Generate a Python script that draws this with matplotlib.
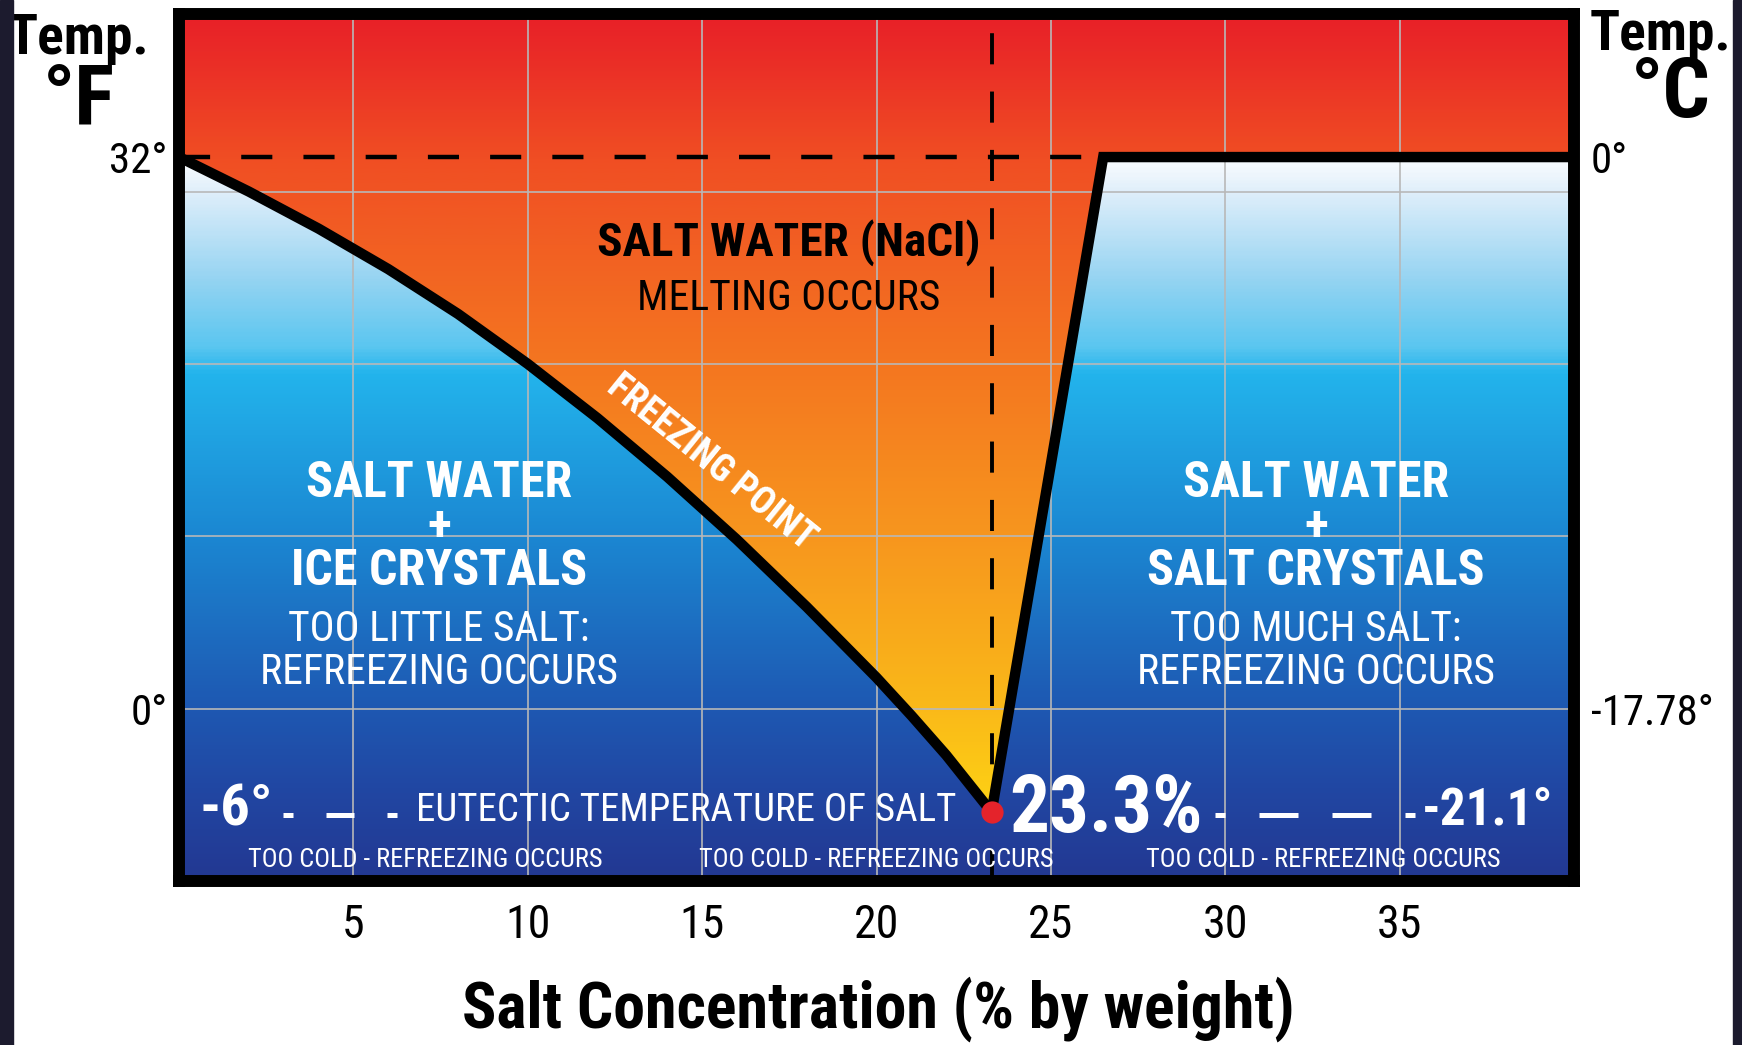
import numpy as np
import matplotlib
matplotlib.use("Agg")
import matplotlib.pyplot as plt
from matplotlib.colors import LinearSegmentedColormap
from matplotlib.patches import Polygon, Rectangle
from matplotlib import font_manager as fm

# ---------------- data ----------------
conc_freeze = [0, 2, 4, 6, 8, 10, 12, 14, 16, 18, 20, 21, 22, 23.3]      # % NaCl
temp_freeze_F = [32, 30.0, 27.85, 25.5, 22.9, 20.0, 16.85, 13.45, 9.8, 5.9, 1.8, -0.4, -2.7, -6.0]
conc_solub = [23.3, 26.5, 40]
temp_solub_F = [-6.0, 32, 32]
eutectic_conc = 23.3
eutectic_F = -6.0
water_freeze_F = 32
xtick_vals = [5, 10, 15, 20, 25, 30, 35]
xtick_labels = ["5", "10", "15", "20", "25", "30", "35"]
ytick_F = [0, 32]
ytick_F_labels = ["0°", "32°"]
ytick_C = [-17.78, 0]
ytick_C_labels = ["-17.78°", "0°"]
grid_F = [0, 10, 20, 30]

# ---------------- fonts ----------------
names = {f.name for f in fm.fontManager.ttflist}
COND = "DejaVu Sans"
for cand in ["Roboto Condensed", "Liberation Sans Narrow", "Open Sans Condensed"]:
    if cand in names:
        COND = cand
        break
plt.rcParams["font.family"] = [COND, "DejaVu Sans"]

W, H = 1742, 1045
fig = plt.figure(figsize=(W / 100, H / 100), dpi=100, facecolor="white")
x0, x1 = 179, 1574
y_top, y_bot = 14, 881
ax = fig.add_axes([x0 / W, 1 - y_bot / H, (x1 - x0) / W, (y_bot - y_top) / H])

lo, hi = -10.0, 40.3
ax.set_xlim(0, 40)
ax.set_ylim(lo, hi)

def cmap_from(stops):
    pos = [(t - lo) / (hi - lo) for t, _ in stops]
    cols = [tuple(c / 255 for c in col) for _, col in stops]
    return LinearSegmentedColormap.from_list("c", list(zip(pos, cols)))

blue = cmap_from([(-10, (35, 56, 146)), (-5, (33, 70, 162)), (0, (30, 88, 178)),
                  (10, (27, 135, 210)), (19.5, (35, 180, 236)), (21, (90, 198, 240)),
                  (25, (150, 212, 242)), (30, (222, 238, 250)), (32, (252, 253, 255)),
                  (40.3, (255, 255, 255))])
warm = cmap_from([(-10, (253, 215, 18)), (-6, (253, 210, 20)), (0, (250, 185, 25)),
                  (10, (247, 150, 30)), (20, (244, 118, 32)), (27, (242, 95, 35)),
                  (32, (240, 78, 35)), (36, (236, 55, 38)), (40.3, (232, 32, 40))])

grad = np.linspace(lo, hi, 600).reshape(-1, 1)
ax.imshow(grad, extent=[0, 40, lo, hi], origin="lower", aspect="auto",
          cmap=blue, vmin=lo, vmax=hi, zorder=0, interpolation="bilinear")
im = ax.imshow(grad, extent=[0, 40, lo, hi], origin="lower", aspect="auto",
               cmap=warm, vmin=lo, vmax=hi, zorder=1, interpolation="bilinear")
verts = [(0, hi), (40, hi)] + list(zip(conc_solub[::-1], temp_solub_F[::-1])) \
        + list(zip(conc_freeze[::-1], temp_freeze_F[::-1]))[1:]
clip = Polygon(verts, closed=True, transform=ax.transData, facecolor="none", edgecolor="none")
ax.add_patch(clip)
im.set_clip_path(clip)

# grid
ax.vlines(xtick_vals, lo, hi, color="#b8b8b8", lw=1.4, alpha=0.85, zorder=2)
ax.hlines(grid_F, 0, 40, color="#b8b8b8", lw=1.4, alpha=0.85, zorder=2)

# dashed reference lines
ax.plot([0, conc_solub[1]], [water_freeze_F, water_freeze_F], color="black", lw=3.2,
        dashes=(7, 7), zorder=3)
ax.plot([eutectic_conc, eutectic_conc], [lo, hi], color="black", lw=2.8,
        dashes=(8, 7), zorder=3)

# phase boundaries
ax.plot(conc_freeze, temp_freeze_F, color="black", lw=7.5, solid_joinstyle="round",
        solid_capstyle="butt", zorder=4)
ax.plot(conc_solub, temp_solub_F, color="black", lw=7.5, solid_joinstyle="miter",
        solid_capstyle="butt", zorder=4)
ax.plot([eutectic_conc], [eutectic_F], "o", color="#e4232b", ms=16, zorder=5, mec="none")

# frame
for s in ax.spines.values():
    s.set_linewidth(8.6)
    s.set_color("black")
    s.set_zorder(6)

# ticks
ax.set_xticks(xtick_vals, labels=xtick_labels)
ax.set_yticks(ytick_F, labels=ytick_F_labels)
ax.tick_params(axis="x", length=0, pad=16, labelsize=33)
ax.tick_params(axis="y", length=0, pad=8, labelsize=31)

f2c = lambda f: (np.asarray(f) - 32) * 5 / 9
c2f = lambda c: np.asarray(c) * 9 / 5 + 32
sec = ax.secondary_yaxis("right", functions=(f2c, c2f))
sec.set_yticks(ytick_C, labels=ytick_C_labels)
sec.tick_params(length=0, pad=12, labelsize=31)
sec.spines["right"].set_visible(False)

# axis titles
fig.text(78 / W, 1 - 39 / H, "Temp.", fontsize=40, fontweight="bold", ha="center", va="center")
fig.text(79 / W, 1 - 101 / H, "°F", fontsize=60, fontweight="bold", ha="center", va="center")
fig.text(1731 / W, 1 - 35 / H, "Temp.", fontsize=40, fontweight="bold", ha="right", va="center")
fig.text(1671 / W, 1 - 95 / H, "°C", fontsize=60, fontweight="bold", ha="center", va="center")
fig.text(878 / W, 1 - 1009 / H, "Salt Concentration (% by weight)", fontsize=46,
         fontweight="heavy", ha="center", va="center")

# region labels
ax.text(17.48, 27.07, "SALT WATER (NaCl)", fontsize=34, fontweight="bold", ha="center", va="center", zorder=7)
ax.text(17.48, 23.8, "MELTING OCCURS", fontsize=30, ha="center", va="center", zorder=7)
ax.text(15.25, 14.3, "FREEZING POINT", fontsize=27, fontweight="bold", color="white",
        rotation=-39, rotation_mode="anchor", ha="center", va="center", zorder=7)

for xc, line3, line4 in [(7.45, "ICE CRYSTALS", "TOO LITTLE SALT:"),
                         (32.6, "SALT CRYSTALS", "TOO MUCH SALT:")]:
    ax.text(xc, 10.5, "SALT WATER\n+\n" + line3, fontsize=36, fontweight="bold", color="white",
            ha="center", va="center", multialignment="center", linespacing=0.92, zorder=7)
    ax.text(xc, 3.36, line4 + "\nREFREEZING OCCURS", fontsize=30, color="white",
            ha="center", va="center", multialignment="center", linespacing=1.05, zorder=7)

# eutectic row
ey = -5.9
dash_y = -6.15
ax.text(0.6, ey, "-6°", fontsize=42, fontweight="bold", color="white", ha="left", va="center", zorder=7)
ax.plot([2.98, 6.25], [dash_y, dash_y], color="white", lw=3.6, solid_capstyle="butt",
        dashes=(2.0, 6.6, 5.6, 6.6, 2.0, 50), zorder=7)
ax.text(22.3, ey, "EUTECTIC TEMPERATURE OF SALT", fontsize=28, color="white",
        ha="right", va="center", zorder=7)
ax.text(23.8, ey, "23.3%", fontsize=57, fontweight="bold", color="white", ha="left", va="center", zorder=7)
ax.plot([29.7, 35.45], [dash_y, dash_y], color="white", lw=3.6, solid_capstyle="butt",
        dashes=(2.0, 6.8, 7.8, 6.8, 7.8, 6.8, 2.0, 50), zorder=7)
ax.text(39.4, ey, "-21.1°", fontsize=37, fontweight="bold", color="white", ha="right", va="center", zorder=7)
for xc in [7.06, 19.99, 32.8]:
    ax.text(xc, -8.8, "TOO COLD - REFREEZING OCCURS", fontsize=19, color="white",
            ha="center", va="center", zorder=7)

# dark side strips of the original image
fig.add_artist(Rectangle((0, 0), 13 / W, 1, transform=fig.transFigure, color="#1c1b2e", zorder=20))
fig.add_artist(Rectangle((1733 / W, 0), 9 / W, 1, transform=fig.transFigure, color="#1c1b2e", zorder=20))

fig.savefig("out.png", dpi=100, facecolor="white")
